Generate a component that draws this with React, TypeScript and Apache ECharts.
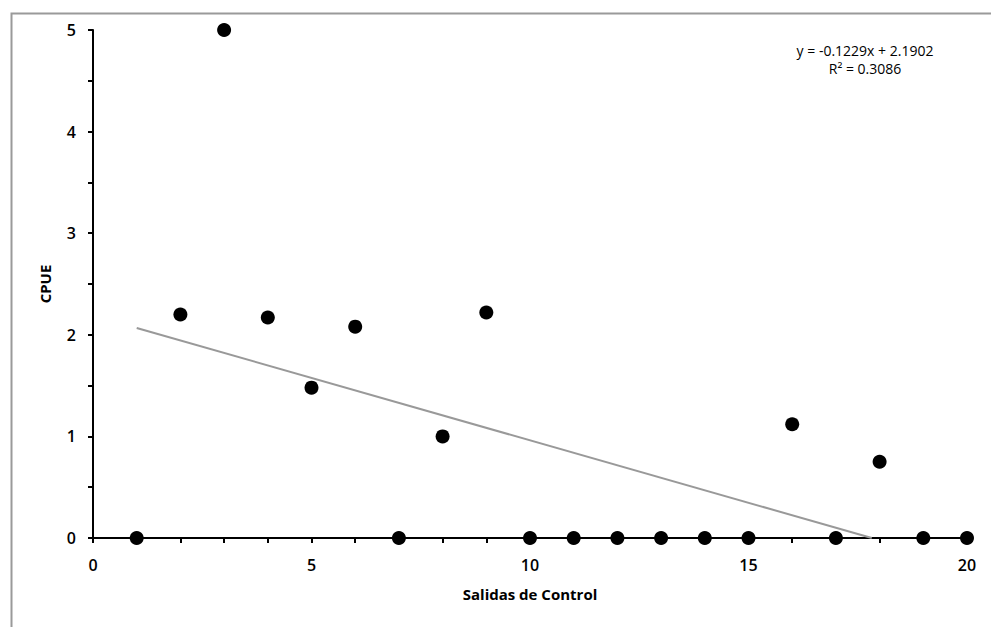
import React, { useEffect, useRef } from "react";
import * as echarts from "echarts";

const salidas = [1, 2, 3, 4, 5, 6, 7, 8, 9, 10, 11, 12, 13, 14, 15, 16, 17, 18, 19, 20];
const cpue = [0, 2.2, 5.0, 2.17, 1.48, 2.08, 0, 1.0, 2.22, 0, 0, 0, 0, 0, 0, 1.12, 0, 0.75, 0, 0];
const trendSlope = -0.1229;
const trendIntercept = 2.1902;
const equationLines = ["y = -0.1229x + 2.1902", "R² = 0.3086"];

export default function App() {
  const ref = useRef<HTMLDivElement>(null);
  useEffect(() => {
    document.body.style.margin = "0";
    if (!ref.current) return;
    const chart = echarts.init(ref.current, null, { renderer: "svg" });
    const xStart = salidas[0];
    const xEnd = -trendIntercept / trendSlope;
    const trend = [
      [xStart, trendIntercept + trendSlope * xStart],
      [xEnd, 0],
    ];
    const font = "'Open Sans', 'Liberation Sans', sans-serif";
    chart.setOption({
      animation: false,
      backgroundColor: "#fff",
      grid: { left: 93, right: 24, top: 30, bottom: 89 },
      graphic: [
        {
          type: "rect",
          left: 9,
          top: 11,
          shape: { width: 1000, height: 700 },
          style: { fill: "none", stroke: "#9a9a9a", lineWidth: 2 },
          silent: true,
        },
        {
          type: "text",
          x: 865,
          y: 41,
          style: {
            text: equationLines.join("\n"),
            align: "center",
            verticalAlign: "top",
            font: `14px ${font}`,
            fill: "#000",
            lineHeight: 18,
          },
        },
      ],
      xAxis: {
        type: "value",
        min: 0,
        max: 20,
        interval: 1,
        name: "Salidas de Control",
        nameLocation: "middle",
        nameGap: 48,
        nameTextStyle: { fontFamily: font, fontWeight: "bold", fontSize: 15, color: "#000" },
        splitLine: { show: false },
        axisLine: { lineStyle: { color: "#000", width: 2 } },
        axisTick: { length: 5, lineStyle: { color: "#000", width: 2 } },
        axisLabel: {
          margin: 19,
          fontFamily: font,
          fontSize: 16,
          fontWeight: 600,
          color: "#000",
          formatter: (v: number) => (v % 5 === 0 ? String(v) : ""),
        },
      },
      yAxis: {
        type: "value",
        min: 0,
        max: 5,
        interval: 0.5,
        name: "CPUE",
        nameLocation: "middle",
        nameGap: 41,
        nameTextStyle: { fontFamily: font, fontWeight: "bold", fontSize: 15, color: "#000" },
        splitLine: { show: false },
        axisLine: { show: true, lineStyle: { color: "#000", width: 2 } },
        axisTick: { show: true, length: 5, lineStyle: { color: "#000", width: 2 } },
        axisLabel: {
          margin: 17,
          fontFamily: font,
          fontSize: 16,
          fontWeight: 600,
          color: "#000",
          formatter: (v: number) => (Math.abs(v - Math.round(v)) < 1e-6 ? String(Math.round(v)) : ""),
        },
      },
      series: [
        {
          type: "line",
          data: trend,
          symbol: "none",
          lineStyle: { color: "#999", width: 2 },
          z: 2,
        },
        {
          type: "scatter",
          data: salidas.map((x, i) => [x, cpue[i]]),
          symbol: "circle",
          symbolSize: 14,
          itemStyle: { color: "#000", opacity: 1 },
          z: 3,
        },
      ],
    });
    return () => chart.dispose();
  }, []);
  return <div ref={ref} style={{ width: 991, height: 627 }} />;
}
